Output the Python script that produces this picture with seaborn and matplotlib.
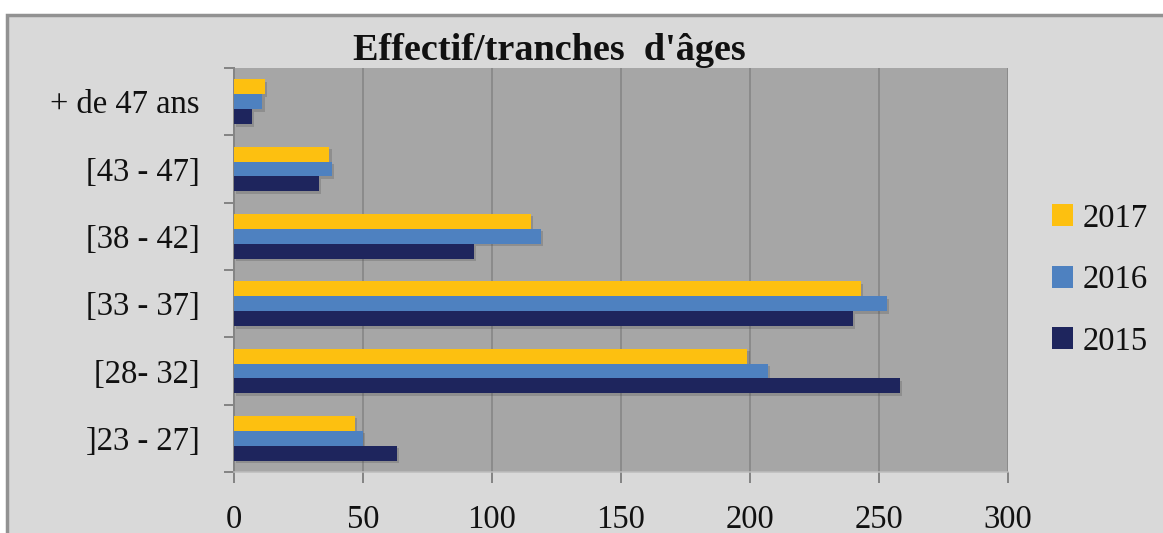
import numpy as np
import pandas as pd
import matplotlib
matplotlib.use("Agg")
import matplotlib.pyplot as plt
import matplotlib.patheffects as pe
from matplotlib.patches import Rectangle
import seaborn as sns

# Age bands (top to bottom) and headcount per year
age_bands = ["+ de 47 ans", "[43 - 47]", "[38 - 42]", "[33 - 37]", "[28- 32]", "]23 - 27]"]
years = ["2017", "2016", "2015"]
effectif_2017 = [12, 37, 115, 243, 199, 47]
effectif_2016 = [11, 38, 119, 253, 207, 50]
effectif_2015 = [7, 33, 93, 240, 258, 63]
x_ticks = [0, 50, 100, 150, 200, 250, 300]
title = "Effectif/tranches  d'âges"

colors = {"2017": "#FDC010", "2016": "#4E81C0", "2015": "#1E255D"}

df = pd.DataFrame({
    "tranche": age_bands * 3,
    "annee": ["2017"] * 6 + ["2016"] * 6 + ["2015"] * 6,
    "effectif": effectif_2017 + effectif_2016 + effectif_2015,
})

sns.set_theme(style="white")
plt.rcParams["font.family"] = ["Liberation Serif", "DejaVu Serif"]

W, H = 1163, 533
PT = 0.72  # points per pixel at dpi=100
fig = plt.figure(figsize=(W / 100, H / 100), dpi=100, facecolor="white")

# Chart area background with a thin border
fig.patches.append(Rectangle((7 / W, -0.01), 1.02 - 7 / W, (H - 15) / H + 0.01,
                             transform=fig.transFigure, facecolor="#D9D9D9",
                             edgecolor="#929292", linewidth=2.5, zorder=-10))

ax = fig.add_axes([234 / W, 61 / H, 774 / W, 404 / H])
ax.set_facecolor("#A6A6A6")

sns.barplot(data=df, y="tranche", x="effectif", hue="annee",
            order=age_bands, hue_order=years, palette=colors,
            orient="h", width=0.667, saturation=1, ax=ax, zorder=3)

for bar in ax.patches:
    bar.set_edgecolor("none")
    bar.set_path_effects([pe.SimplePatchShadow(offset=(1.6, -1.8), shadow_rgbFace="#4a4a4a", alpha=0.25),
                          pe.Normal()])

ax.set_xlim(0, 300)
ax.set_ylim(len(age_bands) - 0.5, -0.5)
ax.set_xticks(x_ticks)
ax.set_xticklabels([str(v) for v in x_ticks])
ax.set_xlabel("")
ax.set_ylabel("")

ax.grid(axis="x", color="#858585", linewidth=1.6 * PT, zorder=1)
ax.set_axisbelow(True)

for side in ["top", "right"]:
    ax.spines[side].set_visible(False)
ax.spines["left"].set_color("#858585")
ax.spines["left"].set_linewidth(2 * PT)
ax.spines["bottom"].set_color("#BDBDBD")
ax.spines["bottom"].set_linewidth(1.5 * PT)

# Category labels centred on bands, tick marks on band boundaries
ax.set_yticks(range(len(age_bands)))
ax.set_yticklabels(age_bands)
ax.set_yticks(np.arange(-0.5, len(age_bands), 1.0), minor=True)
ax.tick_params(axis="y", which="major", length=0, pad=34 * PT, labelsize=23.5, labelcolor="#111111")
ax.tick_params(axis="y", which="minor", left=True, length=10 * PT, width=2 * PT, color="#858585")
ax.tick_params(axis="x", which="major", bottom=True, length=11 * PT, width=2 * PT,
               color="#858585", pad=21 * PT, labelsize=23.5, labelcolor="#111111")

fig.text(549 / W, (H - 51) / H, title, ha="center", va="center",
         fontsize=27.5, fontweight="bold", color="#111111")

leg = ax.legend(loc="center left", bbox_to_anchor=(1052 / W, (H - 280) / H),
                bbox_transform=fig.transFigure, frameon=False, fontsize=23.5,
                handlelength=0.65, handleheight=0.65, labelspacing=0.95,
                handletextpad=0.3, borderpad=0, borderaxespad=0)
for t in leg.get_texts():
    t.set_color("#111111")
for h in leg.legend_handles:
    h.set_path_effects([])
    h.set_edgecolor("none")

fig.savefig("out.png", dpi=100, facecolor="white")
